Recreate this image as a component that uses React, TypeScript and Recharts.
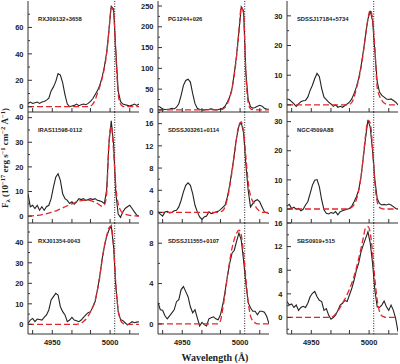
import { LineChart, Line, XAxis, YAxis, ReferenceLine } from "recharts";

// wavelength grid (Å) shared by all panels
const WAVE = [
  4929, 4931, 4933, 4935, 4937, 4939, 4941, 4943, 4945, 4947, 4949, 4951, 4953,
  4955, 4957, 4959, 4961, 4963, 4965, 4967, 4969, 4971, 4973, 4975, 4977, 4979,
  4981, 4983, 4985, 4987, 4989, 4991, 4993, 4995, 4997, 4999, 5001, 5003, 5005,
  5007, 5009, 5011, 5013, 5015, 5017, 5019, 5021, 5023, 5025,
];

const RXJ09132_OBS = [2.5, 3.5, 2.5, 3, 3.5, 2.5, 3.5, 4, 5, 6.5, 12, 15, 19, 25, 24, 18, 9, 2, 0, 0.5, 1, 2, 0.8, 1.5, 2, 1.5, 2.5, 4, 6, 9, 12, 16, 22, 30, 41, 58, 76, 74, 42, 12, 4, 2, 1.5, 1, 0.5, 1.2, 2, 1, 2];
const RXJ09132_FIT = [0, 0, 0, 0, 0, 0, 0, 0, 0, 0, 0, 0, 0, 0, 0, 0, 0, 0, 0, 0, 0, 0, 0, 0, 0, 0, 0, 0.5, 2, 5, 10, 15, 21, 29, 40, 57, 75, 72, 38, 10, 2, 0.3, 0, 0, 0, 0, 0, 0, 0];

const PG1244_OBS = [9, 6.5, 2.4, 1, 1.6, 2.4, 4, 2.4, 6.5, 15, 35, 59, 71, 74, 67, 39, 15, 4, 1, 0, 0, 1, 1.6, 2.4, 1, 0, 1, 2.4, 4, 9, 19, 31, 51, 88, 132, 189, 248, 238, 90, 25, 8, 4, 6, 9, 11, 9, 4, 2.4, 1.6];
const PG1244_FIT = [0, 0, 0, 0, 0, 0, 0, 0, 0, 0, 0, 0, 0, 0, 0, 0, 0, 0, 0, 0, 0, 0, 0, 0, 0, 0, 0, 0.5, 2, 6, 15, 30, 50, 85, 130, 190, 248, 232, 85, 18, 3, 0.5, 0, 0, 0, 0, 0, 0, 0];

const SDSSJ17184_OBS = [2, 1.8, 1.1, 0.3, -0.5, 0.3, 1.1, 1.4, 1.5, 2.6, 4.9, 6.6, 8.9, 10.6, 9.5, 5.5, 2.6, 1.8, 0.9, 0.3, -0.5, 0, -0.8, -0.5, -0.8, -0.2, 0.3, 0.9, 2, 3.8, 6, 8.9, 12.9, 18, 23.7, 28.9, 31.7, 28.3, 18, 7.8, 4.3, 3.2, 2.6, 2, 1.8, 2, 1.5, 0.9, 0];
const SDSSJ17184_FIT = [0, 0, 0, 0, 0, 0, 0, 0, 0, 0, 0, 0, 0, 0, 0, 0, 0, 0, 0, 0, 0, 0, 0, 0, 0, 0, 0, 0.2, 0.8, 2.5, 5.5, 8.5, 12.5, 17.5, 23.5, 29, 32, 29, 19, 6, 3, 1.5, 0.6, 0.2, 0, 0, 0, 0, 0];

const IRAS11598_OBS = [9.1, 3.8, 4.4, 3.1, 4.4, 2.4, 3.8, 2.4, 3.8, 4.4, 7.1, 11.8, 15.8, 17.2, 14.5, 9.1, 7.1, 6.4, 5.1, 5.8, 4.8, 5.8, 7.1, 6.7, 7.1, 6.4, 6.7, 7.1, 6.7, 7.1, 6.4, 6.2, 5.8, 5.1, 10.5, 29.3, 38.7, 29.3, 9.1, 0.8, -0.5, 1.7, 3.1, 3.8, 4.4, 3.1, 1.7, 0.4, 0];
const IRAS11598_FIT = [0, 0.05, 0.1, 0.2, 0.3, 0.4, 0.6, 0.8, 1, 1.2, 1.5, 1.8, 2.1, 2.5, 2.9, 3.3, 3.8, 4.2, 4.6, 5, 5.4, 5.8, 6.1, 6.3, 6.4, 6.5, 6.5, 6.3, 6, 5.6, 5.1, 4.5, 4, 4.5, 9, 30, 36.6, 26.6, 11.8, 5.1, 2.4, 1.3, 0.8, 0.5, 0.3, 0.2, 0.1, 0.05, 0];

const SDSSJ03261_OBS = [0.1, -0.3, -0.65, 0.1, 0.2, -0.1, 0, 0.3, 0.4, 1, 2.2, 3.7, 4.9, 5.35, 4.9, 3.4, 1.3, 0.1, -0.8, -1.25, -0.8, -0.65, 0.1, -0.2, -0.1, 0.1, 0.2, 0.5, 0.9, 1.3, 2.8, 4.9, 7.6, 10.5, 13.5, 15.6, 16.2, 14.4, 8.7, 4, 1, 1.6, 2.1, 2.3, 1.9, 1, 0.1, -0.05, -0.2];
const SDSSJ03261_FIT = [0, 0, 0, 0, 0, 0, 0, 0, 0, 0, 0, 0, 0, 0, 0, 0, 0, 0, 0, 0, 0, 0, 0, 0, 0, 0, 0, 0.1, 0.3, 1, 2.5, 4.6, 7.3, 10.3, 13.5, 15.8, 16.3, 14.5, 10, 5.5, 3, 2, 1.2, 0.6, 0.2, 0, 0, 0, 0];

const NGC4509_OBS = [1, 1.6, 0.2, 0.6, -0.1, 0.2, -0.6, -0.1, 1.4, 2.5, 5.3, 8.2, 9.9, 10.1, 7.6, 3.1, -0.3, -1.5, -1.7, -1.2, -1.5, -0.9, -2, -0.9, -0.6, -0.3, -0.1, 0.2, 1, 2.5, 4.2, 6.5, 11, 17.8, 24.6, 30.5, 28, 20, 10, 3.6, 1.9, 1.4, 1.6, 1.4, 1.7, 1.4, 0.8, 0.2, 0];
const NGC4509_FIT = [0, 0, 0, 0, 0, 0, 0, 0, 0, 0, 0, 0, 0, 0, 0, 0, 0, 0, 0, 0, 0, 0, 0, 0, 0, 0, 0, 0.2, 0.6, 1.5, 3.2, 6.3, 11, 18, 25.5, 30.5, 29.5, 21, 9, 2.5, 0.6, 0.1, 0, 0, 0, 0, 0, 0, 0];

const RXJ01354_OBS = [0.5, 2.1, 2.9, 1.3, 2.6, 2.4, 2.1, 3.4, 4.6, 7, 11.9, 13.5, 15.1, 14.3, 8.6, 6.2, 4.6, 1.3, 2.1, 3.4, 2.1, 1.8, 1.3, 2.1, 3.4, 4.6, 5.7, 6.2, 8.3, 11, 16.7, 23.3, 31.4, 37.9, 42.8, 46, 48, 38, 18.4, 6.2, 2.4, 1.8, 0.8, -0.3, 0.5, 1.3, 0.8, 1.1, 1.3];
const RXJ01354_FIT = [0, 0, 0, 0, 0, 0, 0, 0, 0, 0, 0, 0, 0, 0, 0, 0, 0, 0, 0, 0, 0, 0, 0.2, 0.6, 1.4, 2.5, 4, 6, 8.5, 11.5, 16.5, 23, 31, 38, 43, 47, 48, 38, 19, 7, 2, 0.5, 0.1, 0, 0, 0, 0, 0, 0];

const SDSSJ11555_OBS = [2.1, 1.4, 1.35, 0.8, 0.5, 0.8, 1.1, 1.4, 2.2, 2.4, 3.4, 3.7, 3.2, 2.7, 1.7, 1.1, 1.4, 0.6, -0.2, 0.15, -0.07, -0.2, 0.5, 0.6, 0.7, 0.5, 0.4, 0.9, 1.9, 3.2, 4.7, 6, 7, 7.3, 8.2, 9, 8.3, 6.3, 4, 2.1, 1.6, 1.25, 1.25, 0.9, 1.25, 1.25, 1.15, 0.75, 0];
const SDSSJ11555_FIT = [0, 0, 0, 0, 0, 0, 0, 0, 0, 0, 0, 0, 0, 0, 0, 0, 0, 0, 0, 0, 0, 0, 0, 0, 0, 0, 0, 0.3, 1.5, 3, 4.7, 6.2, 7.5, 8.4, 9, 9.3, 8.8, 7, 4.5, 2.2, 0.8, 0.3, 0.1, 0, 0, 0, 0, 0, 0];

const SBS0919_OBS = [2.7, 2.1, 2.3, 1.7, 2.1, 1.2, 1.7, 1.9, 1.7, 2.4, 3.5, 4.1, 4.4, 3.5, 2.9, 2.7, 1.2, 1.5, 0.4, -0.3, 0, 0.4, 1.2, 2.1, 2.4, 2.9, 2.7, 3.8, 4.9, 6.3, 8, 9.2, 11.1, 12.3, 13.4, 14.5, 12.6, 9.2, 4.6, 1.8, 1.7, 2.1, 2.8, 1.8, 1.2, 2.1, 1.2, -0.2, -2.4];
const SBS0919_FIT = [0, 0, 0, 0, 0, 0, 0, 0, 0, 0, 0, 0, 0, 0, 0, 0, 0, 0, 0, 0, 0.2, 0.6, 1.1, 1.7, 2.4, 3.1, 3.9, 4.8, 5.8, 7, 8.4, 10, 11.7, 13.5, 15.2, 15.4, 14.3, 11, 6.5, 3, 1, 0.3, 0.1, 0, 0, 0, 0, 0, 0];

const X_DOMAIN = [4929, 5025];
const X_TICKS = [4933, 4950, 4967, 4983, 5000, 5017];
const X_LABELS = [4950, 5000];
const LINE_CENTER = 5004;

const PANELS = [
  { name: "RXJ09132+3658", obs: RXJ09132_OBS, fit: RXJ09132_FIT, domain: [-4, 80], major: [0, 20, 40, 60] },
  { name: "PG1244+026", obs: PG1244_OBS, fit: PG1244_FIT, domain: [-5, 262], major: [0, 50, 100, 150, 200, 250] },
  { name: "SDSSJ17184+5734", obs: SDSSJ17184_OBS, fit: SDSSJ17184_FIT, domain: [-2.4, 35], major: [0, 10, 20, 30] },
  { name: "IRAS11598-0112", obs: IRAS11598_OBS, fit: IRAS11598_FIT, domain: [-2.8, 42.3], major: [0, 10, 20, 30, 40] },
  { name: "SDSSJ03261+0114", obs: SDSSJ03261_OBS, fit: SDSSJ03261_FIT, domain: [-1.9, 18.1], major: [0, 4, 8, 12, 16] },
  { name: "NGC4509A88", obs: NGC4509_OBS, fit: NGC4509_FIT, domain: [-4.8, 33.3], major: [0, 10, 20, 30] },
  { name: "RXJ01354-0043", obs: RXJ01354_OBS, fit: RXJ01354_FIT, domain: [-4.7, 49.4], major: [0, 10, 20, 30, 40] },
  { name: "SDSSJ11555+0107", obs: SDSSJ11555_OBS, fit: SDSSJ11555_FIT, domain: [-1, 10], major: [0, 4, 8] },
  { name: "SBS0919+515", obs: SBS0919_OBS, fit: SBS0919_FIT, domain: [-2.8, 16], major: [0, 4, 8, 12, 16] },
];

const COL_LEFT = [28, 158, 287];
const ROW_TOP = [1, 112, 223];
const PW = 111;
const PH = 111;
const YW = 28;
const XH = 30;
const PAD = 6;
const FRAME = "#333";
const TICK_FONT = "'Liberation Sans', Arial, sans-serif";

function withMinor(major: number[], domain: number[]) {
  const step = major[1] - major[0];
  const out = [...major];
  for (let v = major[0] - step / 2; v < domain[1]; v += step) {
    if (v > domain[0]) out.push(v);
  }
  return out.sort((a, b) => a - b);
}

function XTick(props: any) {
  const { x, y, payload, side, show } = props;
  const dir = side === "bottom" ? -1 : 1;
  const v = payload.value;
  return (
    <g>
      <line x1={x} y1={y} x2={x} y2={y + dir * 4} stroke={FRAME} strokeWidth={1} />
      {show && X_LABELS.includes(v) && (
        <text x={x} y={y + 10.5} textAnchor="middle" fontSize={7.5} fontWeight="bold" fontFamily={TICK_FONT} fill="#222">
          {v}
        </text>
      )}
    </g>
  );
}

function YTick(props: any) {
  const { x, y, payload, side, major } = props;
  const dir = side === "left" ? 1 : -1;
  const v = payload.value;
  const isMajor = major.includes(v);
  return (
    <g>
      <line x1={x} y1={y} x2={x + dir * (isMajor ? 4 : 2)} y2={y} stroke={FRAME} strokeWidth={1} />
      {side === "left" && isMajor && (
        <text x={x - 4.5} y={y} dy="0.36em" textAnchor="end" fontSize={7.5} fontWeight="bold" fontFamily={TICK_FONT} fill="#222">
          {v}
        </text>
      )}
    </g>
  );
}

function Panel({ p, col, row }: { p: any; col: number; row: number }) {
  const data = WAVE.map((w, i) => ({ w, obs: p.obs[i], fit: p.fit[i] }));
  const yTicks = withMinor(p.major, p.domain);
  const showX = row === 2;
  return (
    <div style={{ position: "absolute", left: COL_LEFT[col] - YW, top: ROW_TOP[row] - PAD }}>
      <LineChart width={YW + PW + PAD} height={PAD + PH + XH} data={data} margin={{ top: PAD, right: PAD, bottom: 0, left: 0 }}>
        <XAxis
          xAxisId="b"
          dataKey="w"
          type="number"
          domain={X_DOMAIN}
          ticks={X_TICKS}
          interval={0}
          allowDataOverflow
          height={XH}
          tickSize={0}
          tickMargin={0}
          axisLine={{ stroke: FRAME }}
          tick={(props: any) => <XTick {...props} side="bottom" show={showX} />}
        />
        <XAxis
          xAxisId="t"
          orientation="top"
          dataKey="w"
          type="number"
          domain={X_DOMAIN}
          ticks={X_TICKS}
          interval={0}
          allowDataOverflow
          height={0}
          tickSize={0}
          tickMargin={0}
          axisLine={{ stroke: FRAME }}
          tick={(props: any) => <XTick {...props} side="top" show={false} />}
        />
        <YAxis
          yAxisId="l"
          type="number"
          domain={p.domain}
          ticks={yTicks}
          interval={0}
          allowDataOverflow
          width={YW}
          tickSize={0}
          tickMargin={0}
          axisLine={{ stroke: FRAME }}
          tick={(props: any) => <YTick {...props} side="left" major={p.major} />}
        />
        <YAxis
          yAxisId="r"
          orientation="right"
          type="number"
          domain={p.domain}
          ticks={yTicks}
          interval={0}
          allowDataOverflow
          width={0}
          tickSize={0}
          tickMargin={0}
          axisLine={{ stroke: FRAME }}
          tick={(props: any) => <YTick {...props} side="right" major={p.major} />}
        />
        <ReferenceLine xAxisId="b" yAxisId="l" x={LINE_CENTER} stroke="#222" strokeWidth={1} strokeDasharray="1 1.5" />
        <Line
          xAxisId="b"
          yAxisId="l"
          dataKey="obs"
          type="linear"
          stroke="#222"
          strokeWidth={1.1}
          dot={false}
          isAnimationActive={false}
        />
        <Line
          xAxisId="b"
          yAxisId="l"
          dataKey="fit"
          type="monotone"
          stroke="#e3262b"
          strokeWidth={1.3}
          strokeDasharray="6 3"
          dot={false}
          isAnimationActive={false}
        />
      </LineChart>
    </div>
  );
}

export default function App() {
  return (
    <div style={{ position: "absolute", left: 0, top: 0, width: 400, height: 364, background: "#fff", overflow: "hidden" }}>
      {PANELS.map((p, i) => (
        <Panel key={p.name} p={p} col={i % 3} row={Math.floor(i / 3)} />
      ))}
      <svg width={400} height={364} style={{ position: "absolute", left: 0, top: 0, pointerEvents: "none" }}>
        {PANELS.map((p, i) => (
          <text
            key={p.name}
            x={COL_LEFT[i % 3] + 10}
            y={ROW_TOP[Math.floor(i / 3)] + 20}
            fontSize={5.8}
            fontWeight="bold"
            fontFamily={TICK_FONT}
            fill="#222"
          >
            {p.name}
          </text>
        ))}
        <text x={215} y={361} textAnchor="middle" fontSize={10} fontWeight="bold" fontFamily="'Liberation Serif', serif" fill="#222">
          Wavelength (Å)
        </text>
        <text
          transform="translate(8,158) rotate(-90)"
          textAnchor="middle"
          fontSize={9}
          fontWeight="bold"
          fontFamily="'Liberation Serif', serif"
          fill="#222"
        >
          F<tspan fontSize={6.5} dy={2}>λ</tspan>
          <tspan dy={-2}> (10</tspan>
          <tspan fontSize={6.5} dy={-3.5}>−17</tspan>
          <tspan dy={3.5}> erg s</tspan>
          <tspan fontSize={6.5} dy={-3.5}>−1</tspan>
          <tspan dy={3.5}> cm</tspan>
          <tspan fontSize={6.5} dy={-3.5}>−2</tspan>
          <tspan dy={3.5}> Å</tspan>
          <tspan fontSize={6.5} dy={-3.5}>−1</tspan>
          <tspan dy={3.5}>)</tspan>
        </text>
      </svg>
    </div>
  );
}
